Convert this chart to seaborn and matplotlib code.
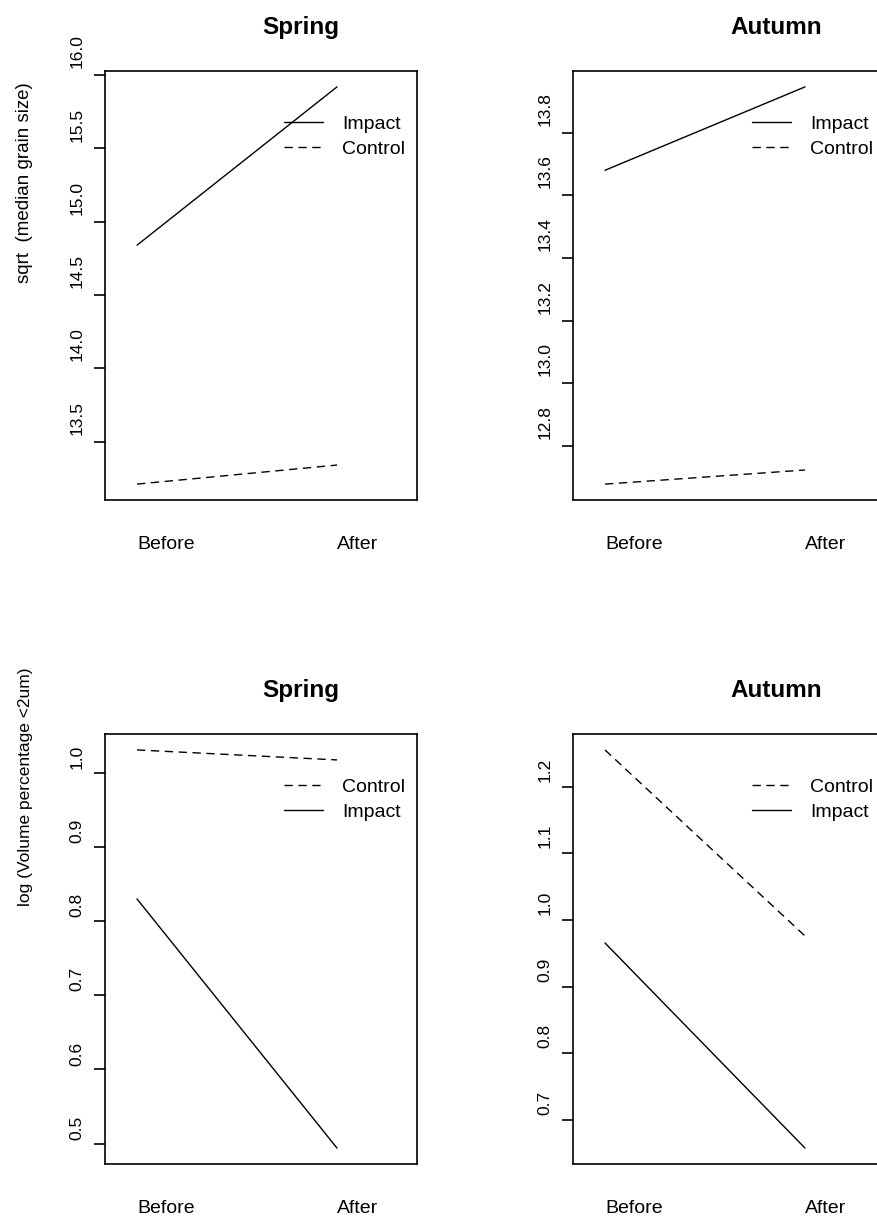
import pandas as pd
import matplotlib.pyplot as plt
import seaborn as sns
from matplotlib.transforms import ScaledTranslation

# --- DATA ---
period = ["Before", "After"]

grain_spring_impact = [14.84, 15.92]
grain_spring_control = [13.21, 13.34]
grain_autumn_impact = [13.68, 13.946]
grain_autumn_control = [12.679, 12.724]

clay_spring_control = [1.031, 1.0175]
clay_spring_impact = [0.830, 0.494]
clay_autumn_control = [1.255, 0.976]
clay_autumn_impact = [0.9655, 0.658]

grain_spring_ticks = [13.5, 14.0, 14.5, 15.0, 15.5, 16.0]
grain_autumn_ticks = [12.8, 13.0, 13.2, 13.4, 13.6, 13.8]
clay_spring_ticks = [0.5, 0.6, 0.7, 0.8, 0.9, 1.0]
clay_autumn_ticks = [0.7, 0.8, 0.9, 1.0, 1.1, 1.2]

top_legend_order = ["Impact", "Control"]
bottom_legend_order = ["Control", "Impact"]

ylab_grain = "sqrt  (median grain size)"
ylab_clay = "log (Volume percentage <2um)"


def make_df(impact, control):
    return pd.DataFrame({
        "period": period * 2,
        "value": list(impact) + list(control),
        "site": ["Impact"] * 2 + ["Control"] * 2,
    })


# --- STYLE ---
sns.set_style("ticks")
plt.rcParams["font.family"] = ["Liberation Sans", "DejaVu Sans"]
plt.rcParams["text.color"] = "black"
plt.rcParams["axes.labelcolor"] = "black"
plt.rcParams["xtick.color"] = "black"
plt.rcParams["ytick.color"] = "black"

W, H = 877, 1218
fig = plt.figure(figsize=(W / 100, H / 100), dpi=100)


def px_axes(x0, y0, x1, y1):
    # pixel box (from top-left) -> figure fraction axes
    return fig.add_axes([x0 / W, 1 - y1 / H, (x1 - x0) / W, (y1 - y0) / H])


panels = [
    # box, title, impact, control, ticks, legend order, title x, label shift(px)
    ((105, 71, 417, 500), "Spring", grain_spring_impact, grain_spring_control,
     grain_spring_ticks, top_legend_order, 0.628, 24),
    ((573, 71, 885, 500), "Autumn", grain_autumn_impact, grain_autumn_control,
     grain_autumn_ticks, top_legend_order, 0.651, 24),
    ((105, 734, 417, 1164), "Spring", clay_spring_impact, clay_spring_control,
     clay_spring_ticks, bottom_legend_order, 0.628, 16),
    ((573, 734, 885, 1164), "Autumn", clay_autumn_impact, clay_autumn_control,
     clay_autumn_ticks, bottom_legend_order, 0.651, 17),
]

dash_map = {"Impact": "", "Control": (6, 4)}

for box, title, impact, control, ticks, order, tx, shift in panels:
    ax = px_axes(*box)
    df = make_df(impact, control)
    sns.lineplot(data=df, x="period", y="value", style="site", style_order=order,
                 dashes=dash_map, color="black", linewidth=1.0, ax=ax)

    # R style axis ranges (4% padding on y)
    vals = df["value"]
    r = vals.max() - vals.min()
    ax.set_ylim(vals.min() - 0.04 * r, vals.max() + 0.04 * r)
    ax.set_xlim(-0.16, 1.40)

    for s in ax.spines.values():
        s.set_visible(True)
        s.set_linewidth(1.2)
        s.set_color("black")

    ax.set_yticks(ticks)
    ax.set_yticklabels([f"{t:.1f}" for t in ticks])
    ax.tick_params(axis="y", length=8, width=1.2, pad=7, labelsize=12.5, labelrotation=90)
    for lab in ax.get_yticklabels():
        lab.set_va("center")
        lab.set_transform(lab.get_transform() +
                          ScaledTranslation(0, shift / 100, fig.dpi_scale_trans))

    ax.tick_params(axis="x", length=0, pad=26, labelsize=14)
    for lab in ax.get_xticklabels():
        lab.set_ha("left")
    ax.set_xlabel("")
    ax.set_ylabel("")

    ax.text(tx, 1 + 37 / 429, title, transform=ax.transAxes, ha="center",
            va="baseline", fontsize=17.5, fontweight="bold")

    handles, labels = ax.get_legend_handles_labels()
    ax.legend(handles, labels, loc="upper left", bbox_to_anchor=(0.574, 0.897),
              frameon=False, fontsize=14, borderpad=0, borderaxespad=0,
              handlelength=2.0, handletextpad=1.0, labelspacing=0.38)

fig.text(25 / W, 1 - 183 / H, ylab_grain, rotation=90, ha="center", va="center", fontsize=13.5)
fig.text(26 / W, 1 - 787 / H, ylab_clay, rotation=90, ha="center", va="center", fontsize=12.5)

fig.savefig("out.png", dpi=100)
